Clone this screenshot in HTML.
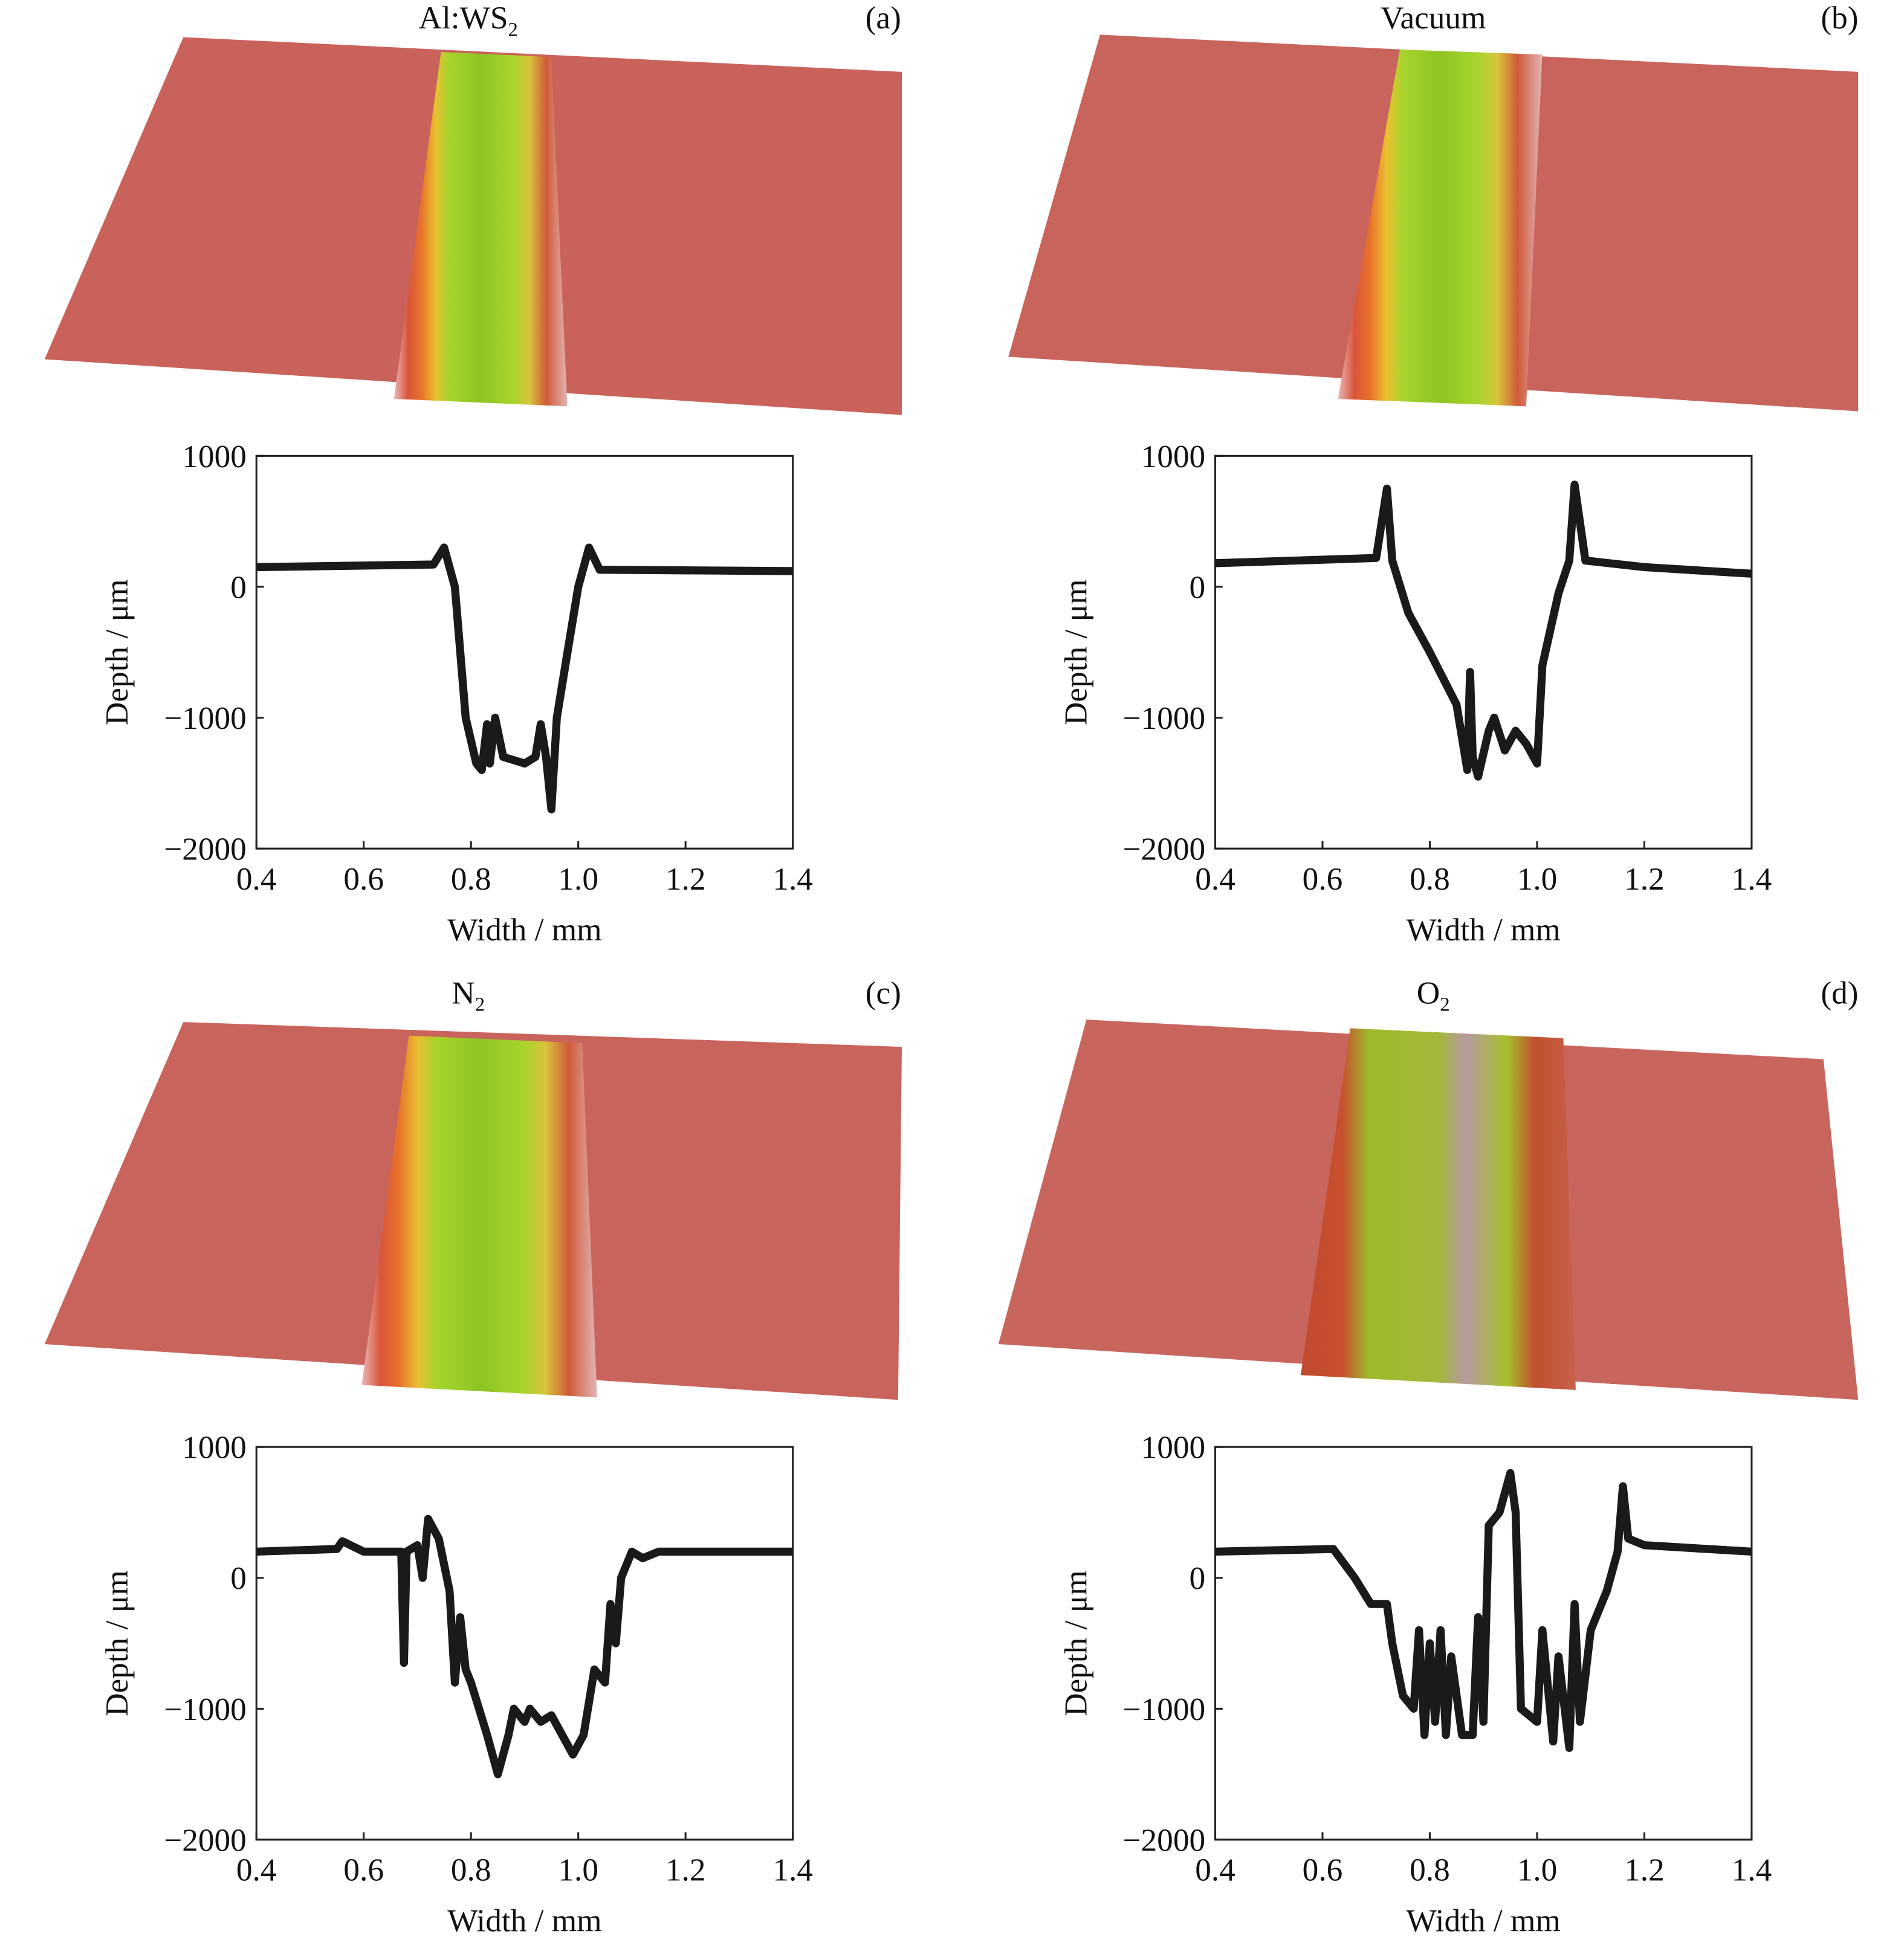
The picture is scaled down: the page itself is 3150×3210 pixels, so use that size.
<!DOCTYPE html>
<html><head><meta charset="utf-8"><style>
html,body{margin:0;padding:0;background:#fff;}
svg{display:block;}
text{font-family:"Liberation Serif",serif;fill:#111;}
</style></head><body>
<svg id="s" width="3150" height="3210" viewBox="0 0 1537 1566" preserveAspectRatio="none" xmlns="http://www.w3.org/2000/svg">
<defs>
<linearGradient id="tr" x1="0" x2="1" y1="0" y2="0">
<stop offset="0" stop-color="#e9b8b8"/><stop offset="0.08" stop-color="#d9543a"/><stop offset="0.16" stop-color="#e8742a"/>
<stop offset="0.24" stop-color="#e9c030"/><stop offset="0.32" stop-color="#a6d42c"/><stop offset="0.5" stop-color="#8fc424"/>
<stop offset="0.68" stop-color="#a6d42c"/><stop offset="0.78" stop-color="#d8c43a"/><stop offset="0.88" stop-color="#d05a3a"/><stop offset="1" stop-color="#e2b4b4"/>
</linearGradient>
<linearGradient id="tr2" x1="0" x2="1" y1="0" y2="0">
<stop offset="0" stop-color="#c04a30"/><stop offset="0.15" stop-color="#c8502e"/><stop offset="0.25" stop-color="#9cbb2a"/>
<stop offset="0.5" stop-color="#a4b83a"/><stop offset="0.6" stop-color="#b79aa0"/><stop offset="0.75" stop-color="#a6c02c"/><stop offset="0.85" stop-color="#c0502e"/><stop offset="1" stop-color="#c8604a"/>
</linearGradient>
</defs>

<polygon points="148,30 728,58 728,335 36,290" fill="#c8625a"/>
<polygon points="356,42 445,46 458,328 318,322" fill="url(#tr)"/>
<polygon points="888,28 1500,58 1500,332 814,288" fill="#c8645c"/>
<polygon points="1130,40 1245,44 1232,328 1080,322" fill="url(#tr)"/>
<polygon points="148,825 728,845 725,1130 36,1085" fill="#c8645c"/>
<polygon points="330,836 470,842 482,1128 292,1118" fill="url(#tr)"/>
<polygon points="877,823 1472,855 1500,1130 806,1085" fill="#c8665e"/>
<polygon points="1090,830 1262,838 1272,1122 1050,1110" fill="url(#tr2)"/>

<text x="378" y="23" font-size="26" text-anchor="middle">Al:WS<tspan font-size="16" dy="6">2</tspan></text>
<text x="713" y="23" font-size="26" text-anchor="middle">(a)</text>
<text x="1157" y="23" font-size="26" text-anchor="middle">Vacuum</text>
<text x="1485" y="23" font-size="26" text-anchor="middle">(b)</text>
<text x="378" y="810" font-size="26" text-anchor="middle">N<tspan font-size="16" dy="6">2</tspan></text>
<text x="713" y="810" font-size="26" text-anchor="middle">(c)</text>
<text x="1157" y="810" font-size="26" text-anchor="middle">O<tspan font-size="16" dy="6">2</tspan></text>
<text x="1485" y="810" font-size="26" text-anchor="middle">(d)</text>

<g id="axes"></g>
</svg>
<script>
var NS="http://www.w3.org/2000/svg";
var ax=document.getElementById('axes');
function el(t,a,txt){var e=document.createElementNS(NS,t);for(var k in a)e.setAttribute(k,a[k]);if(txt!=null)e.textContent=txt;ax.appendChild(e);return e;}
var data=[
[[.4,150],[.73,170],[.75,300],[.77,0],[.79,-1000],[.81,-1350],[.82,-1400],[.83,-1050],[.835,-1350],[.845,-1000],[.86,-1300],[.9,-1350],[.92,-1300],[.93,-1050],[.94,-1300],[.95,-1700],[.96,-1000],[.98,-500],[1.0,0],[1.02,300],[1.04,130],[1.4,120]],
[[.4,180],[.7,220],[.72,750],[.73,200],[.76,-200],[.8,-500],[.85,-900],[.87,-1400],[.875,-650],[.88,-1300],[.89,-1450],[.91,-1100],[.92,-1000],[.94,-1250],[.96,-1100],[.98,-1200],[1.0,-1350],[1.01,-600],[1.04,-50],[1.06,200],[1.07,780],[1.09,200],[1.2,150],[1.4,100]],
[[.4,200],[.55,220],[.56,280],[.6,200],[.67,200],[.675,-650],[.68,200],[.7,250],[.71,0],[.72,450],[.74,300],[.76,-100],[.77,-800],[.78,-300],[.79,-700],[.8,-800],[.83,-1200],[.85,-1500],[.87,-1200],[.88,-1000],[.9,-1100],[.91,-1000],[.93,-1100],[.95,-1050],[.97,-1200],[.99,-1350],[1.01,-1200],[1.03,-700],[1.05,-800],[1.06,-200],[1.07,-500],[1.08,0],[1.1,200],[1.12,150],[1.15,200],[1.4,200]],
[[.4,200],[.62,220],[.66,0],[.69,-200],[.72,-200],[.73,-500],[.75,-900],[.77,-1000],[.78,-400],[.79,-1200],[.8,-500],[.81,-1100],[.82,-400],[.83,-1200],[.84,-600],[.86,-1200],[.88,-1200],[.89,-300],[.9,-1100],[.91,400],[.93,500],[.95,800],[.96,500],[.97,-1000],[1.0,-1100],[1.01,-400],[1.03,-1250],[1.04,-600],[1.06,-1300],[1.07,-200],[1.08,-1100],[1.1,-400],[1.13,-100],[1.15,200],[1.16,700],[1.17,300],[1.2,250],[1.4,200]]
];
var offs=[[0,0],[774,0],[0,800],[774,800]];
offs.forEach(function(o,i){
 var x0=207+o[0],x1=640+o[0],y0=368+o[1],y1=685+o[1];
 function X(v){return x0+(v-0.4)*(x1-x0);}
 function Y(v){return y1-(v+2000)/3000*(y1-y0);}
 el('rect',{x:x0,y:y0,width:x1-x0,height:y1-y0,fill:'none',stroke:'#222','stroke-width':1.5});
 [0.4,0.6,0.8,1.0,1.2,1.4].forEach(function(v){
  el('line',{x1:X(v),x2:X(v),y1:y1,y2:y1-6,stroke:'#222','stroke-width':1.5});
  el('text',{x:X(v),y:y1+33,'font-size':26,'text-anchor':'middle'},v.toFixed(1));
 });
 [[1000,'1000'],[0,'0'],[-1000,'\u22121000'],[-2000,'\u22122000']].forEach(function(t){
  el('line',{x1:x0,x2:x0+6,y1:Y(t[0]),y2:Y(t[0]),stroke:'#222','stroke-width':1.5});
  el('text',{x:x0-8,y:Y(t[0])+9,'font-size':26,'text-anchor':'end'},t[1]);
 });
 el('text',{x:(x0+x1)/2,y:y1+74,'font-size':26,'text-anchor':'middle'},'Width / mm');
 el('text',{x:0,y:0,'font-size':26,'text-anchor':'middle',transform:'translate('+(x0-104)+','+((y0+y1)/2)+') rotate(-90)'},'Depth / \u03bcm');
 var d=data[i].map(function(p,j){return (j?'L':'M')+X(p[0]).toFixed(1)+','+Y(p[1]).toFixed(1);}).join('');
 el('path',{d:d,fill:'none',stroke:'#1a1a1a','stroke-width':6.5,'stroke-linejoin':'round'});
});
</script>
</body></html>
